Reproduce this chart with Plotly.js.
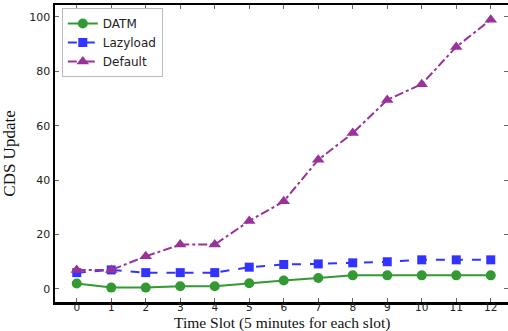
<!DOCTYPE html>
<html>
<head>
<meta charset="utf-8">
<script src="https://cdn.plot.ly/plotly-3.0.1.min.js"></script>
<style>html,body{margin:0;padding:0;background:#fff;}#chart{width:508px;height:331px;}</style>
</head>
<body>
<div id="chart"></div>
<script>
const slots = [0,1,2,3,4,5,6,7,8,9,10,11,12];
const datm = [2,0.5,0.5,1,1,2.1,3.1,4,5,5,5,5,5];
const lazyload = [6,7,6,6,6,8,9,9.2,9.6,10,10.7,10.7,10.7];
const defaultVals = [7,7,12,16.3,16.3,25,32.2,47.5,57.3,69.5,75.3,89,99];
const names = ['DATM','Lazyload','Default'];
const tickVals = [0,20,40,60,80,100];
const xTitle = 'Time Slot (5 minutes for each slot)';
const yTitle = 'CDS Update';

const traces = [
  {x: slots, y: datm, name: names[0], mode: 'lines+markers',
   line: {color: '#339933', width: 2, dash: 'solid'},
   marker: {symbol: 'circle', size: 10, color: '#339933'}},
  {x: slots, y: lazyload, name: names[1], mode: 'lines+markers',
   line: {color: '#3333ff', width: 2, dash: 'dash'},
   marker: {symbol: 'square', size: 9, color: '#3333ff'}},
  {x: slots, y: defaultVals, name: names[2], mode: 'lines+markers',
   line: {color: '#993399', width: 2, dash: 'dashdot'},
   marker: {symbol: 'triangle-up', size: 11, color: '#993399'}}
];

const layout = {
  width: 508, height: 331,
  margin: {l: 55, r: 0, t: 5, b: 29},
  paper_bgcolor: '#fff', plot_bgcolor: '#fff',
  showlegend: true,
  legend: {x: 0.015, y: 0.99, xanchor: 'left', yanchor: 'top',
    bgcolor: '#fff', bordercolor: '#bbb', borderwidth: 1,
    font: {family: 'DejaVu Sans', size: 12, color: '#222'},
    itemwidth: 30, tracegroupgap: 0},
  xaxis: {range: [-0.63, 12.5], tickvals: slots, ticktext: slots.map(String),
    showgrid: false, zeroline: false, showline: true, linecolor: '#000', linewidth: 2.5,
    mirror: 'ticks', ticks: 'inside', ticklen: 4, tickcolor: '#666', tickwidth: 1,
    ticklabelstandoff: -6, automargin: false,
    tickfont: {family: 'DejaVu Sans', size: 10.5, color: '#222'}},
  yaxis: {range: [-4.8, 104.4], tickvals: tickVals, ticktext: tickVals.map(String),
    showgrid: false, zeroline: false, showline: true, linecolor: '#000', linewidth: 2.5,
    mirror: 'ticks', ticks: 'inside', ticklen: 4, tickcolor: '#666', tickwidth: 1,
    automargin: false,
    tickfont: {family: 'DejaVu Sans', size: 11, color: '#222'},
    title: {text: yTitle, standoff: 10,
      font: {family: 'Liberation Serif', size: 17, color: '#111'}}},
  annotations: [{text: xTitle, xref: 'paper', yref: 'paper', x: 0.5, y: -0.07,
    xanchor: 'center', yanchor: 'middle', showarrow: false,
    font: {family: 'Liberation Serif', size: 15.5, color: '#111'}}]
};

Plotly.newPlot('chart', traces, layout, {displayModeBar: false, staticPlot: true});
</script>
</body>
</html>
